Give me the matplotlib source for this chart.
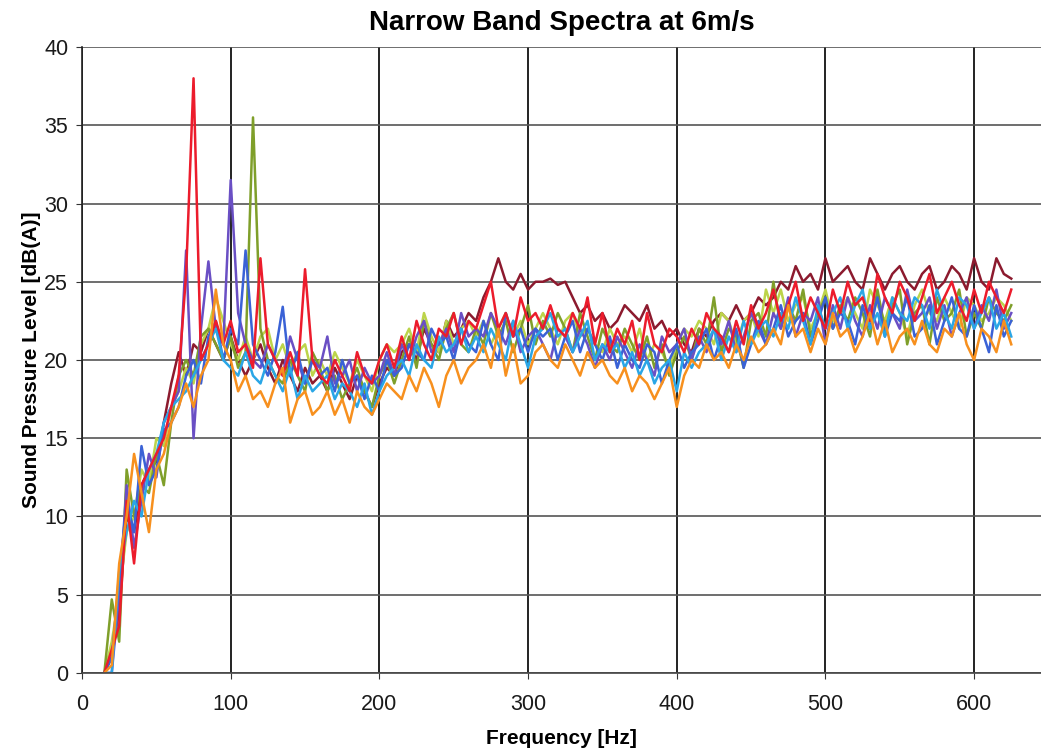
import matplotlib
matplotlib.use('agg')
import matplotlib.pyplot as plt
import numpy as np

plt.rcParams['font.family'] = ['Liberation Sans', 'DejaVu Sans']

# narrow band bins, 5 Hz apart from 15 Hz to 625 Hz
freq = np.arange(15, 626, 5)

red = [0, 1.5, 3, 11, 7, 12, 13, 14, 15, 17,
       19, 25.5, 38, 20, 21, 22.5, 21, 22.5, 20.5, 21,
       19.5, 26.5, 21, 20, 19, 20.5, 19, 25.8, 20, 19,
       18.5, 20, 19, 18, 20.5, 19, 18.5, 20, 21, 19.5,
       21.5, 20, 22.5, 21, 20, 22, 21.5, 23, 21, 22.5,
       22, 23.5, 25, 22, 23, 21.5, 24, 22.5, 23, 22,
       23.5, 22, 21.5, 23, 22, 24, 21, 23, 20.5, 22,
       21, 22.5, 20, 23, 21, 20.5, 22, 21.5, 20.5, 22,
       21, 23, 22, 21.5, 20.5, 22.5, 21, 23.5, 22, 23,
       24.5, 22.5, 23.5, 25, 22.5, 24, 23, 22, 24.5, 23,
       25, 23.5, 24, 22.5, 25.5, 24, 23, 25, 24, 22.5,
       24, 25.5, 23, 24, 25, 23.5, 22.5, 24.5, 23, 25,
       24, 23, 24.5]

maroon = [0, 1, 4, 10, 9, 12, 13, 13.5, 16, 18.5,
          20.5, 19, 21, 20.5, 22, 21, 20, 21.5, 20, 19,
          20, 21, 19.5, 18.5, 20, 19, 18, 19.5, 18.5, 19,
          18, 19.5, 18.5, 17.5, 19, 18, 17, 18.5, 19.5, 19,
          20.5, 21, 20, 22, 21, 20.5, 22.5, 21.5, 22, 23,
          22.5, 24, 25, 26.5, 25, 24.5, 25.5, 24.5, 25, 25,
          25.2, 24.8, 25, 24, 23, 23.5, 22.5, 23, 22, 22.5,
          23.5, 23, 22.5, 23.5, 22, 22.5, 21.5, 22, 21, 20.5,
          22, 21.5, 22.5, 23, 22.5, 23.5, 22.5, 23, 24, 23.5,
          24, 25, 24.5, 26, 25, 25.5, 24.5, 26.5, 25, 25.5,
          26, 25, 24.5, 26.5, 25.5, 24.5, 25.5, 26, 25, 24.5,
          25.5, 26, 24.5, 25, 26, 25.5, 24.5, 26.5, 25, 24.5,
          26.5, 25.5, 25.2]

green = [0, 4.7, 2, 13, 10, 12, 11.5, 14, 12, 16,
         19, 20, 19, 21.5, 22, 21, 20, 21.5, 19.5, 20.5,
         35.5, 22, 20, 19, 18.5, 20, 19, 18, 20.5, 19.5,
         18, 19, 17.5, 18.5, 19.5, 18, 17, 19, 20, 18.5,
         20, 21.5, 19.5, 22.5, 21, 20, 22, 23, 21, 20.5,
         22, 21, 23, 21.5, 22.5, 20.5, 22, 23.5, 21, 22.5,
         21.5, 23, 22, 20.5, 23, 21.5, 20, 22, 21, 20.5,
         22, 21, 20, 21.5, 19.5, 21, 19, 20.5, 21.5, 20,
         22, 21, 24, 20.5, 22, 21.5, 19.5, 22.5, 23, 21.5,
         25, 22, 23.5, 22.5, 24.5, 21.5, 23, 24, 22, 23.5,
         22.5, 24, 23, 21.5, 24.5, 22, 23.5, 24.5, 21, 23,
         23.5, 21, 24, 22.5, 23, 24.5, 21.5, 23, 22, 24,
         23, 22.5, 23.5]

purple = [0, 0, 5, 12, 8, 11, 14, 12.5, 16, 17,
          18, 27, 15, 22, 26.3, 22, 21, 31.5, 23, 21,
          20, 19.5, 21, 20, 19, 21.5, 20, 18.5, 20, 19.5,
          21.5, 18.5, 19, 20, 18, 19.5, 18.5, 19, 20.5, 19,
          21, 20, 21.5, 22.5, 20.5, 21, 22, 20.5, 23, 21.5,
          22, 21.5, 23, 22, 21, 22.5, 20.5, 21.5, 22, 21,
          20, 22, 21.5, 20.5, 22, 21, 19.5, 21, 20, 21.5,
          20.5, 19.5, 21, 20, 19, 21.5, 20.5, 21, 22, 20,
          21.5, 20.5, 22, 21, 22.5, 20.5, 21.5, 23, 22, 21,
          23, 22, 24, 21.5, 23, 22.5, 24, 21, 23.5, 22,
          24, 22.5, 21.5, 23.5, 22, 24, 23, 22, 24.5, 22.5,
          23, 24, 22, 23.5, 21.5, 23, 24, 22, 23.5, 22.5,
          24.5, 22, 23]

blue = [0, 1, 6, 11, 9, 14.5, 12, 13, 15.5, 16,
        17, 19, 20, 18.5, 21.5, 22.5, 20, 22, 21, 27,
        21, 20, 19, 20.5, 23.4, 19, 20.5, 18.5, 20, 19,
        19.5, 18, 20, 18.5, 19, 17.5, 19, 18, 20, 19,
        19.5, 21, 20.5, 20, 22, 21, 21.5, 20, 22, 21,
        20.5, 22.5, 21, 20, 23, 21.5, 22, 20.5, 22, 21.5,
        22, 20, 21.5, 22.5, 20.5, 22, 21, 20, 21.5, 19.5,
        21, 20, 19.5, 21, 20.5, 18.5, 20, 21, 19.5, 20.5,
        21, 22, 20, 21.5, 20.5, 22, 19.5, 21, 22.5, 21,
        22, 23.5, 21.5, 22.5, 23, 21, 22.5, 24, 22, 23,
        22.5, 21, 23.5, 22, 24, 21.5, 23, 22.5, 24, 21.5,
        22, 23.5, 21, 22.5, 24, 22, 21.5, 23.5, 22, 20.5,
        23.5, 21.5, 22.5]

sky = [0, 0, 6.5, 9, 11, 10, 13, 14, 16, 17,
       17.5, 18, 19, 20, 21, 22, 20, 19.5, 19, 20.5,
       19, 18.5, 20, 19, 18, 19.5, 17.5, 19, 18, 18.5,
       19, 17.5, 18.5, 18, 17, 18.5, 16.5, 18, 19, 19.5,
       20, 19, 21, 20, 19.5, 21.5, 20.5, 21, 22, 20.5,
       21.5, 20.5, 22, 21, 20, 22.5, 21, 19.5, 21.5, 22,
       23, 21.5, 22, 20.5, 21.5, 22.5, 20, 21, 20.5, 21,
       19.5, 20.5, 19, 20, 18.5, 19.5, 20, 18, 20.5, 19.5,
       20.5, 21, 22, 20, 21.5, 20.5, 22.5, 21, 22, 22.5,
       21.5, 23, 22, 24, 22.5, 21, 23.5, 22, 23, 24,
       22, 23.5, 24.5, 22, 23, 21.5, 24, 23, 22.5, 24,
       23.5, 22, 24.5, 23, 22, 24, 23.5, 22, 23, 24,
       22, 23, 21.5]

orange = [0, 0.5, 7, 10, 14, 11.5, 9, 13, 14, 16,
          17, 18.5, 17, 19, 20, 24.5, 21, 20, 18, 19,
          17.5, 18, 17, 18.5, 19.5, 16, 17.5, 18, 16.5, 17,
          18, 16.5, 17.5, 16, 18, 17, 16.5, 17.5, 18.5, 18,
          17.5, 19, 18, 19.5, 18.5, 17, 19, 20, 18.5, 19.5,
          20, 21, 19.5, 22, 19, 21, 18.5, 19, 20.5, 21,
          20, 19.5, 21, 20, 19, 20.5, 19.5, 20, 19, 18.5,
          19.5, 18, 19, 18.5, 17.5, 18.5, 19.5, 17, 19, 20,
          19.5, 21, 20, 20.5, 19.5, 21, 20, 21.5, 20.5, 21,
          22, 21, 23.5, 21.5, 22, 20.5, 22, 21, 23, 21.5,
          22, 20.5, 21.5, 23, 21, 22.5, 20.5, 21.5, 22, 21,
          22.5, 21, 20.5, 22, 21.5, 23, 21, 20, 22, 21.5,
          20.5, 22.5, 21]

lime = [0, 2, 5, 9, 10, 13, 12, 15, 14.5, 17,
        18, 19.5, 18.5, 21, 22, 24, 22.5, 21, 20, 21.5,
        20, 21.5, 22, 20, 21, 19.5, 20.5, 21, 19, 20,
        19, 20.5, 19.5, 18.5, 20, 19, 18, 20, 21, 20.5,
        21, 22, 20.5, 23, 21.5, 20.5, 22.5, 21, 22, 22.5,
        21.5, 22.5, 21, 22, 23, 21.5, 22.5, 21, 22, 23,
        22, 21, 22.5, 23, 21.5, 22, 21, 20.5, 22, 21,
        21.5, 20.5, 22, 20, 21, 20.5, 19.5, 21, 22, 21.5,
        22.5, 22, 21, 23, 22.5, 21, 22.5, 23, 21.5, 24.5,
        23, 24.5, 22.5, 23.5, 24, 22, 23, 24.5, 22.5, 23,
        24, 23, 22, 24.5, 23.5, 22.5, 24, 23, 21.5, 23.5,
        24.5, 23, 22.5, 24, 23, 22, 24, 23.5, 22.5, 23,
        24, 23.5, 22.5]

series = [
    (maroon, '#8c1a2e'),
    (lime, '#bcd44a'),
    (green, '#7f9f2a'),
    (purple, '#6a4fc4'),
    (blue, '#3a62d6'),
    (sky, '#2aa6e6'),
    (red, '#ec1c2c'),
    (orange, '#f7901e'),
]


def main():
    fig = plt.figure(figsize=(10.41, 7.51), dpi=100)
    ax = fig.add_axes([0.0788, 0.1039, 1 - 0.0788, 0.8335])

    for vals, col in series:
        ax.plot(freq, vals, color=col, linewidth=1.8, solid_joinstyle='round')

    ax.set_xlim(0, 645)
    ax.set_ylim(0, 40)
    ax.set_xticks(np.arange(0, 601, 100))
    ax.set_yticks(np.arange(0, 41, 5))
    ax.grid(axis='x', color='#222222', linewidth=1.4)
    ax.grid(axis='y', color='#555555', linewidth=1.2)
    ax.set_axisbelow(True)

    for side in ['top', 'right']:
        ax.spines[side].set_visible(False)
    ax.spines['left'].set_color('#222222')
    ax.spines['bottom'].set_color('#444444')
    ax.spines['left'].set_linewidth(1.2)
    ax.spines['bottom'].set_linewidth(1.2)
    ax.tick_params(axis='both', labelsize=15.5, length=4, color='#333333',
                   labelcolor='#1a1a1a')
    ax.tick_params(axis='x', pad=11)
    ax.tick_params(axis='y', pad=6)

    ax.set_title("Narrow Band Spectra at 6m/s", fontsize=20, fontweight='bold', pad=12)
    ax.set_xlabel("Frequency [Hz]", fontsize=15, fontweight='bold', labelpad=10)
    ax.set_ylabel("Sound Pressure Level [dB(A)]", fontsize=15, fontweight='bold', labelpad=2)

    fig.savefig("out.png", dpi=100)


if __name__ == "__main__":
    main()
